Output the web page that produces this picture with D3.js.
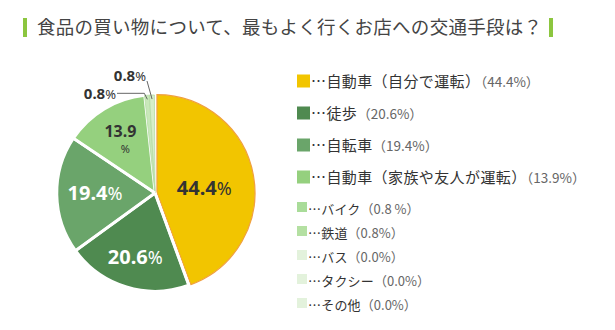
<!DOCTYPE html>
<html><head><meta charset="utf-8">
<script src="https://cdn.jsdelivr.net/npm/d3@7"></script>
<style>
html,body{margin:0;padding:0;background:#fff;}
svg{display:block;font-family:"Noto Sans CJK JP","Noto Sans",sans-serif;}
</style></head>
<body>
<svg id="chart" width="615" height="330"></svg>
<script>
const title = "食品の買い物について、最もよく行くお店への交通手段は？";
const categories = ["自動車（自分で運転）","徒歩","自転車","自動車（家族や友人が運転）","バイク","鉄道","バス","タクシー","その他"];
const values = [44.4, 20.6, 19.4, 13.9, 0.8, 0.8, 0.0, 0.0, 0.0];
const pctLabels = ["（44.4%）","（20.6%）","（19.4%）","（13.9%）","（0.8 %）","（0.8%）","（0.0%）","（0.0%）","（0.0%）"];
const sliceColors = ["#f2c500","#4f8a50","#6aa56a","#95d07e","#c8e8b9","#d6efca","#e3f2dc","#e3f2dc","#e3f2dc"];
const swatchColors = ["#f2c500","#4f8a50","#6aa56a","#95d07e","#a9dc99","#b4e0a2","#e3f2dc","#e3f2dc","#e3f2dc"];

const svg = d3.select("#chart");

// Title
svg.append("rect").attr("x",23).attr("y",18).attr("width",4).attr("height",19).attr("fill","#8cc63f");
svg.append("text").attr("x",37).attr("y",34).attr("font-size",18.5).attr("fill","#444")
  .attr("textLength",505).attr("lengthAdjust","spacing").text(title);
svg.append("rect").attr("x",549).attr("y",18).attr("width",4).attr("height",19).attr("fill","#8cc63f");

// Pie
const cx = 155, cy = 193, R = 98;
const g = svg.append("g").attr("transform",`translate(${cx},${cy})`);
const data = categories.map((c,i)=>({cat:c, value:values[i], i}));
const total = d3.sum(values);
const pie = d3.pie().sort(null).value(d=>d.value).startAngle(0).endAngle(2*Math.PI*total/100);
const arcs = pie(data).filter(a=>a.data.value>0);
const arc = d3.arc().innerRadius(0).outerRadius(R);

arcs.forEach(a=>{
  const i = a.data.i;
  const mid = (a.startAngle+a.endAngle)/2;
  const off = i===0 ? 2 : 0;
  const p = g.append("path").attr("d",arc(a))
    .attr("transform",`translate(${off*Math.sin(mid)},${-off*Math.cos(mid)})`)
    .attr("fill",sliceColors[i]);
  if(i===0){ p.attr("stroke","#f0a040").attr("stroke-width",1.2); }
  else if(i>=4){ p.attr("stroke","#b5dca5").attr("stroke-width",0.8); }
  else { p.attr("stroke","#fff").attr("stroke-width",2.5).attr("stroke-linejoin","round"); }
});
arcs.forEach(a=>{
  const i = a.data.i;
  if(i>=1 && i<=3){
    const ang = a.startAngle;
    g.append("line").attr("x1",0).attr("y1",0)
      .attr("x2",(R+2)*Math.sin(ang)).attr("y2",-(R+2)*Math.cos(ang))
      .attr("stroke","#fff").attr("stroke-width",3);
  }
});

// inner labels
const labelR = [50, 68, 60, 63];
const labelNudgeY = [5, 0, 0, 0];
const labelFill = ["#333","#fff","#fff","#333"];
arcs.filter(a=>a.data.i<4).forEach(a=>{
  const i = a.data.i;
  const mid = (a.startAngle+a.endAngle)/2;
  const x = labelR[i]*Math.sin(mid), y = -labelR[i]*Math.cos(mid) + labelNudgeY[i];
  const v = values[i].toFixed(1);
  if(i===3){
    g.append("text").attr("x",x-2).attr("y",y-2).attr("text-anchor","middle").attr("fill",labelFill[i])
      .attr("font-family","'Noto Sans','Open Sans',sans-serif")
      .attr("font-size",16).attr("font-weight","bold").text(v);
    g.append("text").attr("x",x+3).attr("y",y+14).attr("text-anchor","middle").attr("fill",labelFill[i])
      .attr("font-family","'Noto Sans','Open Sans',sans-serif")
      .attr("font-size",11).text("%");
  } else {
    const t = g.append("text").attr("x",x).attr("y",y).attr("dy","0.35em").attr("text-anchor","middle")
      .attr("fill",labelFill[i]).attr("font-family","'Noto Sans','Open Sans',sans-serif");
    t.append("tspan").attr("font-size",20).attr("font-weight","bold").text(v);
    t.append("tspan").attr("font-size",18).text("%");
  }
});

// outside labels with leader lines for the small slices
const small = arcs.filter(a=>a.data.i===4||a.data.i===5);
small.forEach((a,k)=>{
  const mid = (a.startAngle+a.endAngle)/2;
  const px = (R-4)*Math.sin(mid), py = -(R-4)*Math.cos(mid);
  const v = values[a.data.i].toFixed(1);
  let pts, tx, ty;
  if(k===0){
    pts = [[px,py],[px-3,py-6],[-38,py-6]];
    tx = -39; ty = py-6;
  } else {
    pts = [[px,py],[-8,-112]];
    tx = -9; ty = -118;
  }
  g.append("path").attr("d",d3.line()(pts)).attr("fill","none").attr("stroke","#555").attr("stroke-width",0.9);
  const t = g.append("text").attr("x",tx).attr("y",ty).attr("dy","0.35em").attr("text-anchor","end")
    .attr("fill","#333").attr("font-family","'Noto Sans','Open Sans',sans-serif");
  t.append("tspan").attr("font-size",15).attr("font-weight","bold").text(v);
  t.append("tspan").attr("font-size",13).text("%");
});

// Legend
const rowY = [81, 113, 145, 177, 208, 232, 256, 280, 304];
categories.forEach((c,i)=>{
  const big = i<4;
  const y = rowY[i];
  const sw = big ? 13 : 10;
  svg.append("rect").attr("x",297).attr("y",y-sw/2-(big?0:1)).attr("width",sw).attr("height",big?13:10)
    .attr("fill",swatchColors[i]);
  const t = svg.append("text").attr("x",big?311:308).attr("y",y).attr("dy","0.36em");
  t.append("tspan").attr("font-size",big?15:13).attr("letter-spacing",big?"0.4px":"0.2px").attr("fill","#333").text("…"+c);
  t.append("tspan").attr("font-size",big?13.5:13).attr("fill","#666").text(pctLabels[i]);
});
</script>
</body></html>
